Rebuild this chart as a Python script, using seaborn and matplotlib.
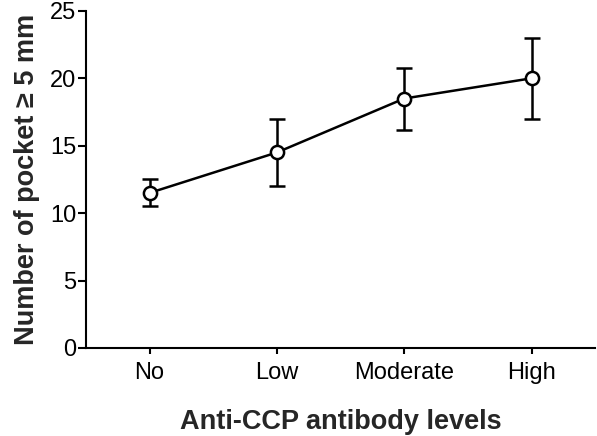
import pandas as pd
import matplotlib
matplotlib.use("Agg")
import matplotlib.pyplot as plt
import seaborn as sns

# values
levels = ["No", "Low", "Moderate", "High"]
pocket_mean = [11.5, 14.5, 18.5, 20.0]
pocket_err = [1.0, 2.5, 2.3, 3.0]
y_ticks = [0, 5, 10, 15, 20, 25]

df = pd.DataFrame({"level": levels, "mean": pocket_mean, "err": pocket_err})

sns.set_style("ticks")
plt.rcParams["font.family"] = ["Liberation Sans", "DejaVu Sans"]

fig, ax = plt.subplots(figsize=(5.97, 4.36), dpi=100)
fig.subplots_adjust(left=0.144, right=0.997, top=0.975, bottom=0.202)

sns.pointplot(data=df, x="level", y="mean", order=levels, errorbar=None,
              color="black", markers="o", linestyles="-", ax=ax,
              markersize=9.5, markeredgewidth=1.8, linewidth=1.8)
# white-filled circles on top of the error bars
for coll in ax.collections:
    coll.set_facecolor("white")
    coll.set_zorder(5)
for line in ax.lines:
    line.set_markerfacecolor("white")
    line.set_zorder(4)

ax.errorbar(range(len(levels)), df["mean"], yerr=df["err"], fmt="none",
            ecolor="black", elinewidth=1.8, capsize=5.5, capthick=1.8, zorder=2)

ax.set_xlim(-0.5, 3.5)
ax.set_ylim(0, 25)
ax.set_yticks(y_ticks)
ax.set_xlabel("Anti-CCP antibody levels", fontsize=19.5, fontweight="bold", labelpad=18)
ax.set_ylabel("Number of pocket \u2265 5 mm", fontsize=19.5, fontweight="bold", labelpad=7)
ax.tick_params(axis="both", labelsize=17, width=1.5, color="black", labelcolor="black")
ax.tick_params(axis="y", length=6, pad=1)
ax.tick_params(axis="x", length=4, pad=6)
for side in ["left", "bottom"]:
    ax.spines[side].set_linewidth(1.5)
    ax.spines[side].set_color("black")
sns.despine(ax=ax)

fig.savefig("out.png", dpi=100)
